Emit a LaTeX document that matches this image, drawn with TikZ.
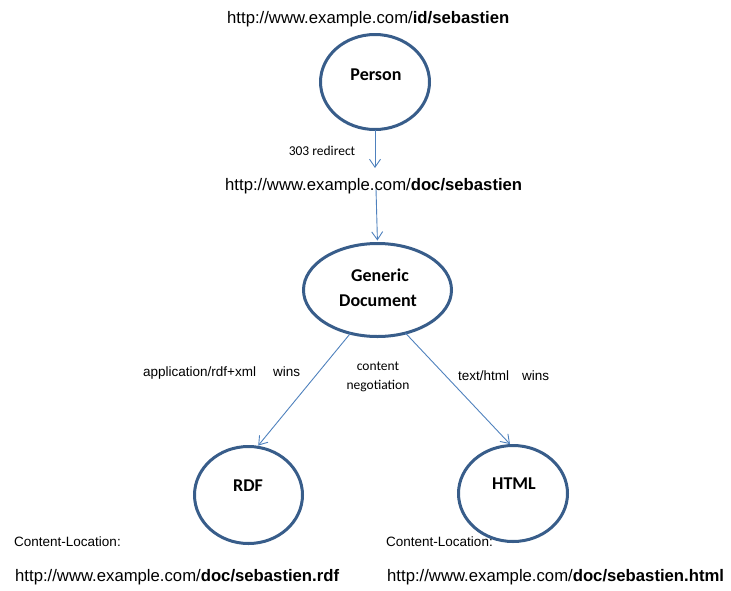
\documentclass[tikz,border=0pt]{standalone}
\usepackage{fontspec}
\setmainfont{Liberation Sans}
\newfontfamily\calfont{Carlito}
\usetikzlibrary{shapes.geometric,arrows.meta}
\definecolor{ellblue}{HTML}{385D8A}
\definecolor{arrblue}{HTML}{4F81BD}
\begin{document}
\begin{tikzpicture}[x=1pt,y=-1pt,
  ell/.style={draw=ellblue, line width=3pt, ellipse, inner sep=0pt, outer sep=0pt},
  ttl/.style={font=\calfont\bfseries\fontsize{18}{22}\selectfont, anchor=base, inner sep=0pt},
  url/.style={font=\fontsize{16.7}{20}\selectfont, anchor=base west, inner sep=0pt},
  small/.style={font=\calfont\fontsize{13.5}{19}\selectfont, anchor=base, inner sep=0pt},
  asmall/.style={font=\fontsize{13.5}{16}\selectfont, anchor=base west, inner sep=0pt},
  conn/.style={draw=arrblue, line width=0.9pt, -{Straight Barb[length=8pt,width=11pt]}}]
\useasboundingbox (0,0) rectangle (731,590);

% URLs
\node[url] (idurl) at (227,23) {http://www.example.com/\textbf{id/sebastien}};
\node[url] (docurl) at (225,190.5) {http://www.example.com/\textbf{doc/sebastien}};
\node[asmall] (cl1) at (14,546) {Content-Location:};
\node[asmall] (cl2) at (386,546) {Content-Location:};
\node[url] (rdfurl) at (15,581) {http://www.example.com/\textbf{doc/sebastien.rdf}};
\node[url] (htmlurl) at (387,581) {http://www.example.com/\textbf{doc/sebastien.html}};

% ellipses
\node[ell, minimum width=109pt, minimum height=95pt] (person) at (375,82) {};
\node[ell, minimum width=148pt, minimum height=93pt] (gen) at (377.5,290) {};
\node[ell, minimum width=108pt, minimum height=97pt] (rdf) at (248.5,495) {};
\node[ell, minimum width=109pt, minimum height=96pt] (html) at (513,493.5) {};

\node[ttl] (personT) at (376,80) {Person};
\node[ttl] (genT1) at (380,281.7) {Generic};
\node[ttl] (genT2) at (378,306.7) {Document};
\node[ttl] (rdfT) at (248,491.7) {RDF};
\node[ttl] (htmlT) at (514,489) {HTML};

% labels
\node[small] (redir) at (322,155.7) {303 redirect};
\node[small] (cn1) at (378,370) {content};
\node[small] (cn2) at (378,389) {negotiation};
\node[asmall] (rdfwins) at (143,376.7) {application/rdf+xml\hspace{17pt}wins};
\node[asmall] (htmlwins) at (458,380) {text/html\hspace{13pt}wins};

% connectors
\coordinate (a1) at (375,168);
\coordinate (a2) at (376,189);
\draw[conn] (person.south) -- (a1);
\draw[conn, shorten >=3pt] (a2) -- (gen.north);
\draw[conn, shorten >=2pt] (gen.-122) -- (rdf.80);
\draw[conn, shorten >=2pt] (gen.-57) -- (html.92);
\end{tikzpicture}
\end{document}
